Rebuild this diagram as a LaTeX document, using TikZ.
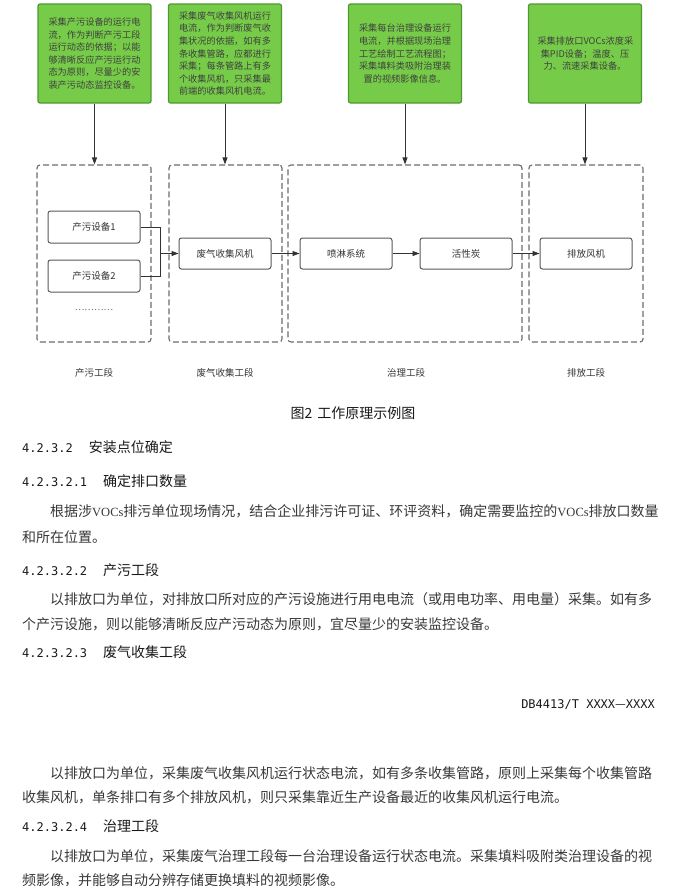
\documentclass[tikz,border=0pt]{standalone}
\usepackage{fontspec}
\setmainfont{Liberation Serif}
\newfontfamily\cjk{Noto Sans CJK SC}
\newfontfamily\numfont{DejaVu Sans Mono}
\usepackage{tikz}
\usetikzlibrary{arrows.meta, positioning}
\definecolor{gFill}{HTML}{76CC48}
\definecolor{gEdge}{HTML}{4F9A30}
\definecolor{lineDark}{HTML}{333333}
\definecolor{dashGray}{HTML}{6B6B6B}
\newcommand{\secnum}[1]{{\numfont\fontsize{12}{14}\selectfont #1}\hspace{16pt}}
\newcommand{\voc}{{\rmfamily\fontsize{12.5}{14}\selectfont VOCs}}

\begin{document}
\begin{tikzpicture}[x=1pt, y=-1pt,
  gbox/.style={draw=gEdge, line width=1.2pt, fill=gFill, rounded corners=2pt, minimum width=113pt, minimum height=99pt, text width=95pt, align=center, inner sep=0pt, font=\cjk\fontsize{9.2}{12.6}\selectfont, text=black!75},
  sect/.style={draw=dashGray, dash pattern=on 6pt off 3pt, line width=1.1pt, rounded corners=3pt, minimum width=114pt, minimum height=177pt},
  unit/.style={draw=black!65, line width=1pt, rounded corners=2.5pt, fill=white, minimum width=92pt, minimum height=32pt, font=\cjk\fontsize{9.5}{11}\selectfont, text=black!80},
  lbl/.style={font=\cjk\fontsize{9.5}{11}\selectfont, text=black!80},
  arr/.style={draw=lineDark, line width=0.9pt, -{Triangle[length=7pt,width=5pt]}},
  ln/.style={draw=lineDark, line width=0.9pt},
  hd/.style={anchor=west, inner sep=0pt, font=\cjk\fontsize{14}{16}\selectfont, text=black!90},
  txt/.style={anchor=west, inner sep=0pt, font=\cjk\fontsize{14}{16}\selectfont, text=black!78},
]
  \useasboundingbox (0,0) rectangle (688,886);
  % ---- green notes (top row) ----
  \node[gbox] (g1) at (94.5,53.5) {采集产污设备的运行电\\流，作为判断产污工段\\运行动态的依据；以能\\够清晰反应产污运行动\\态为原则，尽量少的安\\装产污动态监控设备。};
  \node[gbox] (g2) at (225,53.5) {采集废气收集风机运行\\电流，作为判断废气收\\集状况的依据，如有多\\条收集管路，应都进行\\采集；每条管路上有多\\个收集风机，只采集最\\前端的收集风机电流。};
  \node[gbox] (g3) at (405,53.5) {采集每台治理设备运行\\电流，并根据现场治理\\工艺绘制工艺流程图；\\采集填料类吸附治理装\\置的视频影像信息。};
  \node[gbox] (g4) at (585,53.5) {采集排放口VOCs浓度采\\集PID设备；温度、压\\力、流速采集设备。};
  % ---- dashed sections ----
  \node[sect] (s1) at (94,253.5) {};
  \node[sect, minimum width=113pt] (s2) at (225.5,253.5) {};
  \node[sect, minimum width=234pt] (s3) at (405,253.5) {};
  \node[sect] (s4) at (586,253.5) {};
  \foreach \i in {1,...,4}
    \draw[arr] (g\i.south) -- (g\i.south |- s\i.north);
  % ---- units ----
  \node[unit] (dev1) at (94,227) {产污设备1};
  \node[unit] (dev2) at (94,276) {产污设备2};
  \node[font=\cjk\fontsize{9}{10}\selectfont, text=black!60, below=13pt of dev2] (dots) {…………};
  \node[unit, minimum height=31pt] (fan) at (225,253.5) {废气收集风机};
  \node[unit, minimum height=31pt] (spray) at (346,253.5) {喷淋系统};
  \node[unit, minimum height=31pt] (carbon) at (466,253.5) {活性炭};
  \node[unit, minimum height=31pt] (exh) at (586,253.5) {排放风机};
  \coordinate (m) at (160,253.5);
  \draw[ln] (dev1.east) -| (m);
  \draw[ln] (dev2.east) -| (m);
  \draw[arr] (m) -- (fan);
  \draw[arr] (fan) -- (spray);
  \draw[arr] (spray) -- (carbon);
  \draw[arr] (carbon) -- (exh);
  % ---- section labels ----
  \node[lbl] (l1) at (94,373) {产污工段};
  \node[lbl] (l2) at (225,373) {废气收集工段};
  \node[lbl] (l3) at (406,373) {治理工段};
  \node[lbl] (l4) at (586,373) {排放工段};
  % ---- caption and text ----
  \node[hd, anchor=center] (cap) at (353,413) {图2\hspace{5pt}工作原理示例图};
  \node[hd] (h1) at (22,447) {\secnum{4.2.3.2}安装点位确定};
  \node[hd] (h11) at (22,481) {\secnum{4.2.3.2.1}确定排口数量};
  \node[txt] (p11) at (50,511) {根据涉\voc 排污单位现场情况，结合企业排污许可证、环评资料，确定需要监控的\voc 排放口数量};
  \node[txt] (p12) at (22,537) {和所在位置。};
  \node[hd] (h12) at (22,570) {\secnum{4.2.3.2.2}产污工段};
  \node[txt] (p21) at (50,599) {以排放口为单位，对排放口所对应的产污设施进行用电电流（或用电功率、用电量）采集。如有多};
  \node[txt] (p22) at (22,624) {个产污设施，则以能够清晰反应产污动态为原则，宜尽量少的安装监控设备。};
  \node[hd] (h13) at (22,652) {\secnum{4.2.3.2.3}废气收集工段};
  \node[hd, anchor=east, font=\numfont\fontsize{12}{14}\selectfont] (doc) at (655,705) {DB4413/T XXXX{\cjk\fontsize{12}{14}\selectfont —}XXXX};
  \node[txt] (p31) at (50,773) {以排放口为单位，采集废气收集风机运行状态电流，如有多条收集管路，原则上采集每个收集管路};
  \node[txt] (p32) at (22,797) {收集风机，单条排口有多个排放风机，则只采集靠近生产设备最近的收集风机运行电流。};
  \node[hd] (h14) at (22,826) {\secnum{4.2.3.2.4}治理工段};
  \node[txt] (p41) at (50,856) {以排放口为单位，采集废气治理工段每一台治理设备运行状态电流。采集填料吸附类治理设备的视};
  \node[txt] (p42) at (22,880) {频影像，并能够自动分辨存储更换填料的视频影像。};
\end{tikzpicture}
\end{document}
